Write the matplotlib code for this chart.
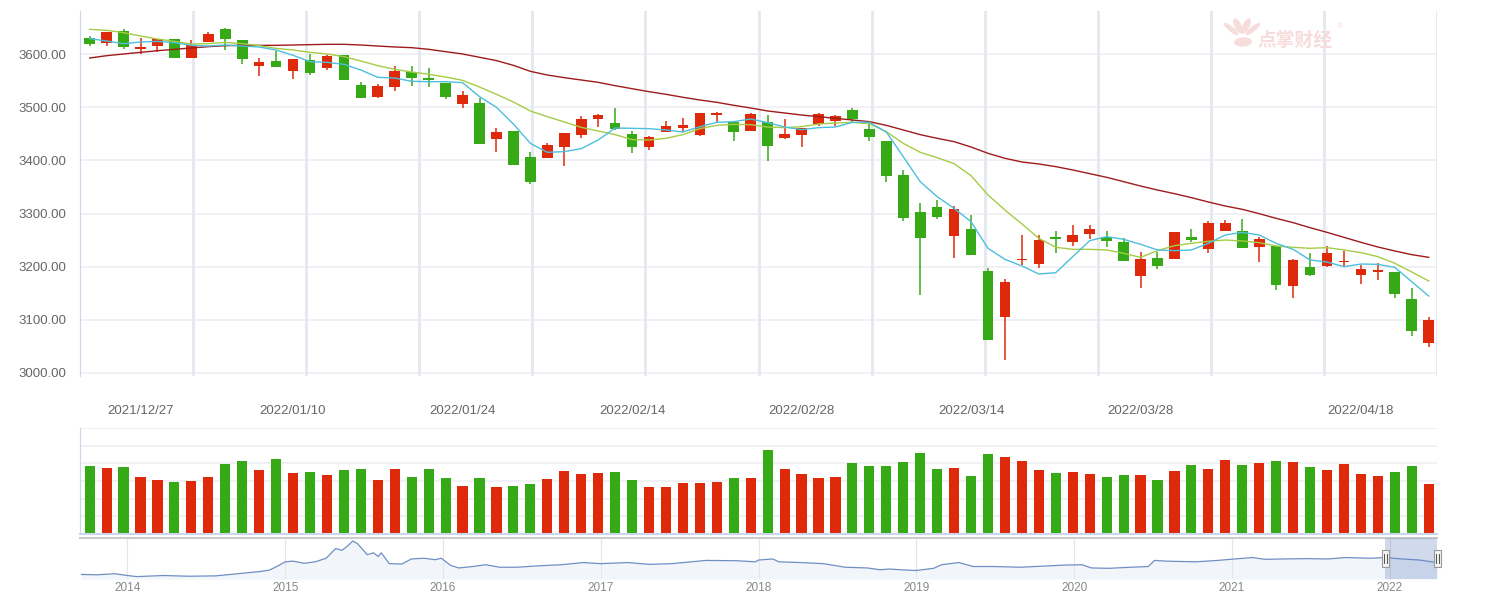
import numpy as np
import pandas as pd
import matplotlib
matplotlib.use("Agg")
import matplotlib.pyplot as plt
from matplotlib.patches import Rectangle, Ellipse

plt.rcParams['font.family'] = ['Liberation Sans', 'DejaVu Sans']

# trading days shown (2021/12/22 - 2022/04/22)
days = pd.bdate_range('2021-12-22', '2022-04-22')
holidays = pd.to_datetime(['2022-01-03', '2022-01-31', '2022-02-01', '2022-02-02',
                           '2022-02-03', '2022-02-04', '2022-04-04', '2022-04-05'])
days = days[~days.isin(holidays)]

opens = [3630.7, 3621.9, 3643.9, 3610.6, 3616.3, 3628.8, 3593.7, 3623.8, 3647.7, 3627.0,
         3578.6, 3587.4, 3569.2, 3589.3, 3574.8, 3598.7, 3542.1, 3520.2, 3539.0, 3566.6,
         3555.3, 3545.9, 3505.8, 3508.2, 3441.0, 3455.5, 3406.5, 3405.2, 3425.9, 3448.5,
         3478.7, 3470.5, 3449.8, 3425.9, 3454.2, 3461.8, 3448.5, 3486.2, 3472.5, 3456.1,
         3472.5, 3442.9, 3448.5, 3468.7, 3474.9, 3495.0, 3459.3, 3436.6, 3372.5, 3302.8,
         3312.3, 3258.2, 3270.8, 3191.6, 3105.5, 3213.0, 3205.5, 3255.2, 3247.0, 3262.0,
         3255.8, 3246.4, 3182.8, 3216.7, 3214.9, 3255.8, 3233.8, 3267.7, 3267.0, 3237.6,
         3238.8, 3164.1, 3199.2, 3201.7, 3208.6, 3184.7, 3190.3, 3189.7, 3138.9, 3056.6]
highs = [3634.5, 3642.0, 3647.7, 3631.3, 3629.5, 3629.0, 3627.0, 3642.0, 3649.6, 3627.0,
         3593.0, 3606.2, 3592.0, 3600.6, 3598.7, 3599.0, 3547.8, 3544.0, 3577.9, 3577.9,
         3574.1, 3546.0, 3531.5, 3518.3, 3461.1, 3456.0, 3415.9, 3432.2, 3452.0, 3483.7,
         3487.5, 3498.8, 3455.5, 3446.1, 3474.3, 3480.0, 3490.0, 3491.3, 3473.0, 3489.4,
         3485.6, 3478.0, 3462.0, 3489.4, 3485.6, 3498.8, 3474.3, 3437.0, 3382.0, 3319.8,
         3325.5, 3314.2, 3297.1, 3197.9, 3176.5, 3259.5, 3259.5, 3267.0, 3278.3, 3278.3,
         3267.0, 3253.9, 3228.1, 3228.1, 3266.0, 3270.8, 3285.9, 3288.0, 3289.9, 3255.8,
         3239.0, 3214.9, 3225.6, 3238.8, 3230.0, 3202.9, 3206.7, 3190.0, 3160.2, 3105.5]
lows = [3616.3, 3616.3, 3610.0, 3601.2, 3605.0, 3593.0, 3593.0, 3623.0, 3608.7, 3582.4,
        3559.1, 3576.0, 3553.4, 3561.0, 3570.4, 3552.0, 3517.0, 3517.7, 3531.5, 3540.9,
        3539.0, 3515.2, 3499.4, 3431.0, 3416.5, 3392.0, 3356.2, 3405.0, 3390.1, 3442.9,
        3462.9, 3457.3, 3414.6, 3420.2, 3454.0, 3454.2, 3446.1, 3471.8, 3437.3, 3456.0,
        3399.5, 3441.0, 3425.9, 3464.9, 3464.9, 3472.5, 3437.3, 3360.0, 3286.4, 3147.2,
        3290.2, 3216.7, 3222.0, 3062.0, 3024.5, 3203.6, 3197.9, 3224.9, 3239.5, 3252.6,
        3237.6, 3211.0, 3160.2, 3196.0, 3214.0, 3247.0, 3226.2, 3267.0, 3235.0, 3209.2,
        3156.5, 3141.4, 3182.8, 3199.8, 3199.8, 3167.8, 3175.3, 3141.4, 3069.8, 3049.1]
closes = [3620.0, 3642.0, 3614.4, 3613.8, 3628.8, 3593.7, 3618.2, 3638.2, 3629.5, 3591.8,
          3585.5, 3576.7, 3591.1, 3565.4, 3596.8, 3552.2, 3518.3, 3540.3, 3567.9, 3556.0,
          3552.2, 3520.2, 3523.3, 3431.6, 3453.6, 3392.0, 3360.0, 3429.1, 3451.7, 3478.0,
          3485.6, 3458.5, 3425.9, 3444.2, 3464.9, 3466.8, 3489.4, 3489.4, 3454.2, 3487.5,
          3427.8, 3449.8, 3461.1, 3487.5, 3483.7, 3478.7, 3444.8, 3371.3, 3292.1, 3254.5,
          3294.0, 3308.5, 3222.4, 3062.2, 3170.2, 3214.9, 3250.1, 3252.6, 3259.5, 3270.8,
          3248.9, 3211.1, 3214.9, 3201.7, 3265.1, 3250.8, 3282.1, 3282.1, 3235.6, 3252.0,
          3166.0, 3213.0, 3184.7, 3225.6, 3210.5, 3195.4, 3193.5, 3148.9, 3079.2, 3099.3]

ma5 = [3629.5, 3625.1, 3620.0, 3623.2, 3624.4, 3621.9, 3616.9, 3615.6, 3617.5, 3615.6,
       3613.8, 3608.1, 3598.1, 3586.1, 3584.9, 3581.1, 3570.4, 3556.6, 3555.3, 3549.1,
       3548.4, 3548.4, 3546.5, 3520.2, 3500.1, 3468.7, 3432.2, 3415.3, 3416.6, 3422.2,
       3438.5, 3461.1, 3460.5, 3459.9, 3457.4, 3453.6, 3463.6, 3471.8, 3473.1, 3478.1,
       3471.2, 3463.0, 3458.0, 3461.8, 3463.0, 3471.8, 3471.8, 3453.6, 3407.1, 3360.0,
       3331.7, 3309.7, 3284.6, 3234.4, 3213.6, 3201.1, 3186.0, 3188.5, 3218.7, 3248.8,
       3256.4, 3251.4, 3242.0, 3231.3, 3230.0, 3231.3, 3243.8, 3259.5, 3264.5, 3259.5,
       3243.8, 3232.5, 3212.4, 3208.6, 3199.8, 3204.8, 3204.2, 3198.5, 3171.5, 3144.5]
ma10 = [3647.0, 3645.2, 3640.8, 3634.5, 3628.8, 3624.4, 3619.4, 3620.0, 3622.5, 3620.0,
        3616.3, 3611.2, 3608.1, 3603.7, 3600.6, 3595.6, 3587.4, 3578.6, 3571.7, 3566.6,
        3562.3, 3557.2, 3550.9, 3538.4, 3524.6, 3510.1, 3493.2, 3482.5, 3472.5, 3462.4,
        3455.5, 3448.6, 3439.2, 3438.5, 3441.7, 3448.6, 3459.9, 3466.1, 3468.0, 3467.4,
        3463.0, 3461.8, 3463.6, 3468.7, 3470.5, 3471.8, 3469.3, 3454.2, 3432.2, 3415.3,
        3405.2, 3393.9, 3371.3, 3334.9, 3306.6, 3280.3, 3253.2, 3236.3, 3232.5, 3232.5,
        3231.3, 3225.0, 3217.4, 3230.0, 3239.4, 3243.8, 3247.6, 3250.1, 3248.2, 3245.1,
        3238.8, 3236.3, 3234.4, 3235.7, 3231.3, 3226.3, 3218.7, 3206.2, 3189.8, 3172.9]
ma30 = [3593.0, 3597.4, 3600.6, 3603.7, 3606.8, 3609.4, 3611.9, 3614.4, 3616.3, 3616.9,
        3616.9, 3616.9, 3617.5, 3618.2, 3618.8, 3618.8, 3617.5, 3615.6, 3613.8, 3612.5,
        3609.4, 3605.0, 3600.6, 3594.4, 3588.1, 3579.2, 3567.9, 3561.0, 3556.0, 3551.6,
        3547.2, 3540.9, 3535.2, 3529.6, 3524.6, 3519.0, 3513.9, 3509.5, 3503.9, 3498.8,
        3493.2, 3489.4, 3485.6, 3482.5, 3479.3, 3476.2, 3473.1, 3466.1, 3457.4, 3448.6,
        3441.7, 3435.4, 3425.3, 3413.4, 3404.0, 3397.1, 3393.3, 3388.3, 3382.0, 3375.1,
        3368.2, 3360.0, 3351.8, 3344.3, 3337.4, 3329.9, 3321.7, 3314.1, 3307.9, 3299.7,
        3290.9, 3282.8, 3273.3, 3264.5, 3255.1, 3245.7, 3236.9, 3229.4, 3222.5, 3217.4]

volume = [204, 198, 201, 171, 162, 156, 159, 171, 210, 219, 192, 225, 183, 186, 177, 192,
          195, 162, 195, 171, 195, 168, 144, 168, 141, 144, 150, 165, 189, 180, 183, 186,
          162, 141, 141, 153, 153, 156, 168, 168, 252, 195, 180, 168, 171, 213, 204, 204,
          216, 243, 195, 198, 174, 240, 231, 219, 192, 183, 186, 180, 171, 177, 177, 162,
          189, 207, 195, 222, 207, 213, 219, 216, 201, 192, 210, 180, 174, 186, 204, 150]

label_dates = ['2021/12/27', '2022/01/10', '2022/01/24', '2022/02/14',
               '2022/02/28', '2022/03/14', '2022/03/28', '2022/04/18']

# navigator: whole history of the index (year, value)
nav_t = [2013.71, 2013.81, 2013.92, 2014.0, 2014.06, 2014.23, 2014.39, 2014.56, 2014.70, 2014.84,
         2014.90, 2014.96, 2015.0, 2015.05, 2015.12, 2015.19, 2015.26, 2015.32, 2015.36, 2015.39,
         2015.43, 2015.46, 2015.52, 2015.56, 2015.59, 2015.61, 2015.66, 2015.74, 2015.80, 2015.88,
         2015.95, 2015.99, 2016.05, 2016.10, 2016.19, 2016.27, 2016.36, 2016.47, 2016.61, 2016.75,
         2016.89, 2017.0, 2017.17, 2017.31, 2017.45, 2017.67, 2017.87, 2017.98, 2018.0, 2018.09,
         2018.13, 2018.27, 2018.41, 2018.55, 2018.69, 2018.77, 2018.83, 2018.94, 2019.0, 2019.11,
         2019.16, 2019.27, 2019.36, 2019.49, 2019.66, 2019.80, 2019.94, 2020.05, 2020.11, 2020.22,
         2020.36, 2020.47, 2020.51, 2020.58, 2020.77, 2020.91, 2021.02, 2021.13, 2021.21, 2021.33,
         2021.47, 2021.61, 2021.72, 2021.88, 2021.97, 2022.08, 2022.19, 2022.30]
nav_v = [2017, 1983, 2083, 1917, 1817, 1917, 1850, 1883, 2083, 2283,
         2416, 2849, 3182, 3249, 3049, 3182, 3515, 4414, 4248, 4581,
         5114, 4847, 3848, 4015, 3682, 4015, 3016, 2982, 3449, 3515,
         3382, 3515, 2849, 2616, 2749, 2916, 2683, 2683, 2816, 2916,
         3116, 3016, 3116, 2949, 3016, 3315, 3282, 3182, 3349, 3449,
         3182, 3116, 3016, 2683, 2616, 2450, 2516, 2416, 2383, 2583,
         2916, 3116, 2749, 2749, 2683, 2783, 2882, 2916, 2616, 2583,
         2683, 2749, 3315, 3249, 3182, 3315, 3449, 3582, 3415, 3449,
         3482, 3449, 3582, 3515, 3582, 3449, 3349, 3116]

RED = '#de2a0b'
GREEN = '#35a916'
W, H = 1487, 609


def box(l, t, r, b):
    return [l / W, 1 - b / H, (r - l) / W, (b - t) / H]


fig = plt.figure(figsize=(W / 100, H / 100), dpi=100)
ax = fig.add_axes(box(80, 11, 1437, 376))
axv = fig.add_axes(box(80, 428, 1437, 534))
axn = fig.add_axes(box(80, 538, 1437, 579))

x = np.arange(len(days))
o = np.array(opens)
c = np.array(closes)
colors = [RED if cc >= oo else GREEN for oo, cc in zip(o, c)]
xlo, xhi = -0.57, 79.49

# ---- candles ----
ax.vlines(x, lows, highs, colors=colors, lw=1.1, zorder=3)
body = np.maximum(np.abs(c - o), 1.2)
ax.bar(x, body, bottom=np.minimum(o, c), width=0.63, color=colors, zorder=4)
ax.plot(x, ma30, color='#9e1b1b', lw=1.0, zorder=5)
ax.plot(x, ma10, color='#a5cc45', lw=1.0, zorder=5)
ax.plot(x, ma5, color='#4cbfdc', lw=1.0, zorder=5)

ax.set_xlim(xlo, xhi)
ax.set_ylim(2993.8, 3681.6)
ax.set_yticks(range(3000, 3601, 100))
ax.set_yticklabels([f'{v:.2f}' for v in range(3000, 3601, 100)])
ax.grid(axis='y', color='#f0f0f4', lw=1.3)
ax.set_axisbelow(True)
for k in range(1, 13):
    ax.axvline(xlo + k * (xhi - xlo) / 12, color='#e4e8ef', lw=2, zorder=1)
lbl_idx = [list(days.strftime('%Y/%m/%d')).index(d) for d in label_dates]
ax.set_xticks(lbl_idx)
ax.set_xticklabels(label_dates)
ax.tick_params(axis='both', length=0, labelsize=9.5, colors='#666666')
ax.tick_params(axis='y', pad=9.5)
ax.tick_params(axis='x', pad=21)
for s in ['top', 'right', 'bottom']:
    ax.spines[s].set_visible(False)
ax.spines['left'].set_color('#ccd6eb')

# ---- volume ----
axv.bar(x, volume, width=0.6, color=colors)
axv.set_xlim(xlo, xhi)
axv.set_ylim(0, 317)
axv.set_yticks(np.linspace(0, 317, 7))
axv.set_xticks([])
axv.tick_params(axis='y', length=0, labelleft=False)
axv.grid(axis='y', color='#f0f0f4', lw=1.3)
axv.set_axisbelow(True)
for s in ['top', 'right']:
    axv.spines[s].set_visible(False)
axv.spines['left'].set_color('#ccd6eb')
axv.spines['bottom'].set_color('#ccd6eb')
axv.spines['bottom'].set_linewidth(1.5)

# ---- navigator ----
ylo_n, yhi_n = 1594, 5390
axn.fill_between(nav_t, nav_v, ylo_n, color='#f2f5fa', lw=0)
axn.plot(nav_t, nav_v, color='#6f8fc4', lw=0.9)
axn.set_xlim(2013.70, 2022.30)
axn.set_ylim(ylo_n, yhi_n)
axn.set_xticks(range(2014, 2023))
axn.set_xticklabels([str(y) for y in range(2014, 2023)])
axn.set_yticks([])
axn.tick_params(axis='x', length=0, pad=2, labelsize=8.5, colors='#888888')
axn.grid(axis='x', color='#e6e6e6', lw=0.8)
for s in ['left', 'right', 'bottom']:
    axn.spines[s].set_visible(False)
axn.spines['top'].set_color('#cccccc')
axn.spines['top'].set_linewidth(1.5)

t0 = days[0].year + (days[0].dayofyear - 1) / 365
t1 = days[-1].year + (days[-1].dayofyear - 1) / 365
axn.axvspan(t0, t1, color=(102 / 255, 133 / 255, 194 / 255), alpha=0.3, lw=0, zorder=3)
for t in (t0, t1):
    fx = (t - 2013.70) / (2022.30 - 2013.70)
    hw = 7 / 1357
    axn.add_patch(Rectangle((fx - hw / 2, 0.3), hw, 0.4, transform=axn.transAxes,
                            facecolor='#f2f2f2', edgecolor='#999999', lw=0.8,
                            zorder=5, clip_on=False))
    for dx in (-0.0009, 0.0009):
        axn.plot([fx + dx, fx + dx], [0.4, 0.6], transform=axn.transAxes,
                 color='#333333', lw=0.6, zorder=6, clip_on=False)

# ---- watermark ----
wm = '#f7dcdc'
fig.text(1295 / W, 1 - 40 / H, '点掌财经', fontsize=13.5, color=wm, weight='bold',
         family=['Noto Sans CJK SC'], ha='center', va='center')
fig.text(1340 / W, 1 - 27 / H, '®', fontsize=6, color=wm, ha='center', va='center')
for (px, py, w, h, a) in [(1231, 29, 5, 12, 25), (1238, 26, 6, 14, 10),
                          (1246, 26, 6, 14, -10), (1253, 29, 5, 12, -25),
                          (1243, 42, 16, 8, -15)]:
    fig.patches.append(Ellipse((px / W, 1 - py / H), w / W, h / H, angle=a,
                               transform=fig.transFigure, color=wm, zorder=10))

fig.savefig('out.png', dpi=100)
